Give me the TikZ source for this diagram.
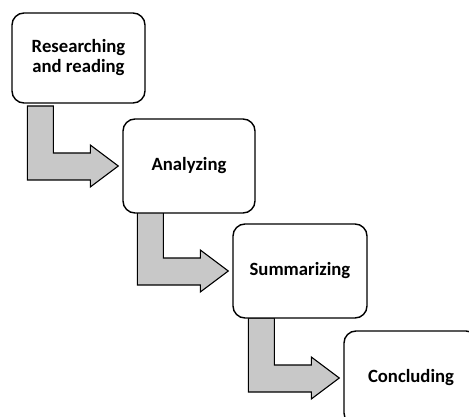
\documentclass[tikz,border=0pt]{standalone}
\usepackage{fontspec}
\setmainfont{Carlito}
\usetikzlibrary{calc,backgrounds}
\definecolor{arrowgray}{RGB}{200,200,200}
\begin{document}
\begin{tikzpicture}[x=1pt,y=-1pt,
  box/.style={draw, line width=1.4pt, rounded corners=12pt, fill=white,
    minimum width=133pt, minimum height=94pt, align=center, inner sep=0pt,
    font=\bfseries\fontsize{18.7}{20}\selectfont},
  bentarrow/.style={draw, line width=1.1pt, fill=arrowgray, line join=miter}]
\useasboundingbox (0,0) rectangle (469,417);
\clip (0,0) rectangle (469,417);
\node[box, minimum height=90pt] (b1) at (78.5,58) {Researching\\and reading};
\node[box, minimum width=132pt] (b2) at (189,166) {Analyzing};
\node[box, minimum width=134pt] (b3) at (300,271) {Summarizing};
\node[box, minimum width=134pt] (b4) at (411,378) {Concluding};
\begin{pgfonlayer}{background}
\foreach \n in {b2,b3,b4}{
  \begin{scope}[shift={($(\n.west)+(-4pt,0)$)}]
    \path[bentarrow] (-91,-60) -- (-65,-60) -- (-65,-13) -- (-28,-13) -- (-28,-21)
      -- (0,0) -- (-28,21) -- (-28,14) -- (-91,14) -- cycle;
  \end{scope}
}
\end{pgfonlayer}
\end{tikzpicture}
\end{document}
